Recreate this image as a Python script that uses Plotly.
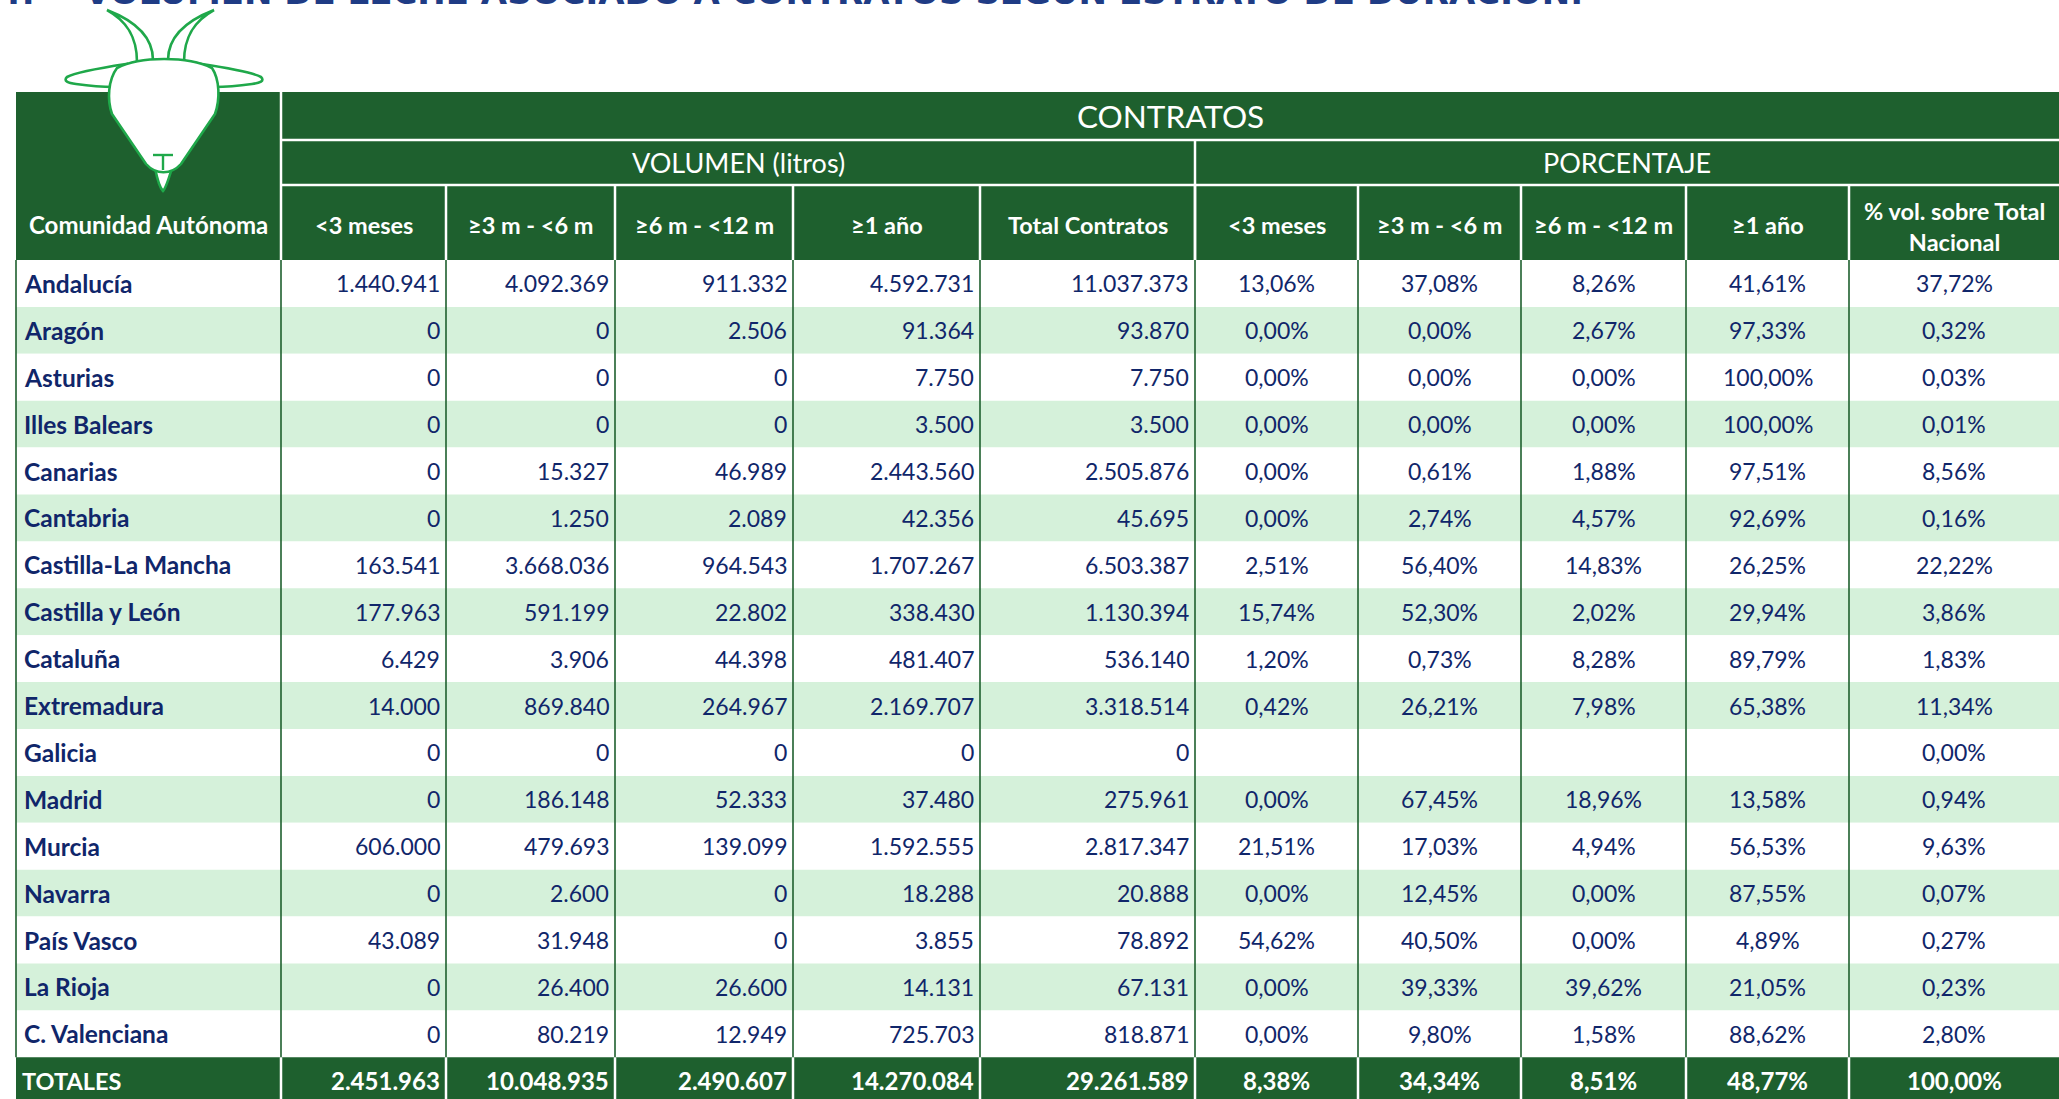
import plotly.graph_objects as go

# ---------------- DATA ----------------
regions = ["Andalucía", "Aragón", "Asturias", "Illes Balears", "Canarias", "Cantabria",
           "Castilla-La Mancha", "Castilla y León", "Cataluña", "Extremadura", "Galicia",
           "Madrid", "Murcia", "Navarra", "País Vasco", "La Rioja", "C. Valenciana"]

vol_lt3 = [1440941, 0, 0, 0, 0, 0, 163541, 177963, 6429, 14000, 0, 0, 606000, 0, 43089, 0, 0]
vol_3_6 = [4092369, 0, 0, 0, 15327, 1250, 3668036, 591199, 3906, 869840, 0, 186148, 479693, 2600, 31948, 26400, 80219]
vol_6_12 = [911332, 2506, 0, 0, 46989, 2089, 964543, 22802, 44398, 264967, 0, 52333, 139099, 0, 0, 26600, 12949]
vol_1y = [4592731, 91364, 7750, 3500, 2443560, 42356, 1707267, 338430, 481407, 2169707, 0, 37480, 1592555, 18288, 3855, 14131, 725703]
vol_total = [11037373, 93870, 7750, 3500, 2505876, 45695, 6503387, 1130394, 536140, 3318514, 0, 275961, 2817347, 20888, 78892, 67131, 818871]

pct_lt3 = [13.06, 0.00, 0.00, 0.00, 0.00, 0.00, 2.51, 15.74, 1.20, 0.42, None, 0.00, 21.51, 0.00, 54.62, 0.00, 0.00]
pct_3_6 = [37.08, 0.00, 0.00, 0.00, 0.61, 2.74, 56.40, 52.30, 0.73, 26.21, None, 67.45, 17.03, 12.45, 40.50, 39.33, 9.80]
pct_6_12 = [8.26, 2.67, 0.00, 0.00, 1.88, 4.57, 14.83, 2.02, 8.28, 7.98, None, 18.96, 4.94, 0.00, 0.00, 39.62, 1.58]
pct_1y = [41.61, 97.33, 100.00, 100.00, 97.51, 92.69, 26.25, 29.94, 89.79, 65.38, None, 13.58, 56.53, 87.55, 4.89, 21.05, 88.62]
pct_nat = [37.72, 0.32, 0.03, 0.01, 8.56, 0.16, 22.22, 3.86, 1.83, 11.34, 0.00, 0.94, 9.63, 0.07, 0.27, 0.23, 2.80]

totals_label = "TOTALES"
totals_vol = [2451963, 10048935, 2490607, 14270084, 29261589]
totals_pct = [8.38, 34.34, 8.51, 48.77, 100.00]

col_labels = ["Comunidad Autónoma", "&lt;3 meses", "≥3 m - &lt;6 m", "≥6 m - &lt;12 m", "≥1 año",
              "Total Contratos", "&lt;3 meses", "≥3 m - &lt;6 m", "≥6 m - &lt;12 m", "≥1 año",
              "% vol. sobre Total<br>Nacional"]
top_label = "CONTRATOS"
group_labels = ["VOLUMEN (litros)", "PORCENTAJE"]
title_text = "4.-   VOLUMEN DE LECHE ASOCIADO A CONTRATOS SEGÚN ESTRATO DE DURACIÓN."

# ---------------- STYLE / LAYOUT ----------------
W, H = 2059, 1099
DARK = "#1E602E"
BAND = "#D5F1DA"
NAVY = "#10266A"
LOGO = "#1FA84A"
FONT = "Lato"

table_left = 16
col_widths = [265, 165, 169, 178, 187, 215, 163, 163, 165, 163, 210]
hdr_top, hdr_r1, hdr_r2, body_top = 92, 140, 185, 260
row_h = 46.9
right_end = W + 20

col_edges = [table_left]
for w in col_widths:
    col_edges.append(col_edges[-1] + w)


def fmt_int(v):
    return f"{v:,}".replace(",", ".")


def fmt_pct(v):
    return "" if v is None else f"{v:.2f}".replace(".", ",") + "%"


shapes = []
annotations = []


def rect(x0, y0, x1, y1, color):
    shapes.append(dict(type="rect", xref="x", yref="y", x0=x0, y0=y0, x1=x1, y1=y1,
                       fillcolor=color, line=dict(width=0), layer="above"))


def line(x0, y0, x1, y1, color, w):
    shapes.append(dict(type="line", xref="x", yref="y", x0=x0, y0=y0, x1=x1, y1=y1,
                       line=dict(color=color, width=w), layer="above"))


def text(x, y, s, size, color, anchor="center", bold=False, weight=None):
    f = dict(family=FONT, size=size, color=color)
    if bold:
        f["weight"] = 700
    elif weight:
        f["weight"] = weight
    annotations.append(dict(x=x, y=y, xref="x", yref="y", text=s, showarrow=False,
                            xanchor=anchor, yanchor="middle", font=f))


n_rows = len(regions)
totals_top = body_top + n_rows * row_h
totals_bot = totals_top + row_h

# body bands
for i in range(n_rows):
    y0 = body_top + i * row_h
    rect(table_left, y0, right_end, y0 + row_h, BAND if i % 2 == 1 else "white")

# body vertical borders
for x in col_edges[:-1]:
    line(x, body_top, x, totals_top, DARK, 1.6)

# header block
rect(table_left, hdr_top, right_end, body_top, DARK)
line(col_edges[1], hdr_top, col_edges[1], body_top, "white", 2.5)
line(col_edges[1], hdr_r1, right_end, hdr_r1, "white", 2.5)
line(col_edges[1], hdr_r2, right_end, hdr_r2, "white", 2.5)
line(col_edges[6], hdr_r1, col_edges[6], body_top, "white", 2.5)
for x in col_edges[2:-1]:
    line(x, hdr_r2, x, body_top, "white", 2.5)

# totals row
rect(table_left, totals_top, right_end, totals_bot, DARK)
for x in col_edges[1:-1]:
    line(x, totals_top, x, totals_bot, "white", 2.5)

# header texts
text((col_edges[1] + col_edges[-1]) / 2, (hdr_top + hdr_r1) / 2, top_label, 31.5, "white")
text((col_edges[1] + col_edges[6]) / 2, (hdr_r1 + hdr_r2) / 2, group_labels[0], 27, "white")
text((col_edges[6] + col_edges[-1]) / 2, (hdr_r1 + hdr_r2) / 2, group_labels[1], 27, "white")
text((col_edges[0] + col_edges[1]) / 2, (hdr_r2 + body_top) / 2 + 2, col_labels[0], 24, "white", bold=True)
for j in range(1, len(col_labels)):
    yy = (hdr_r2 + body_top) / 2 + (4 if j == len(col_labels) - 1 else 2)
    text((col_edges[j] + col_edges[j + 1]) / 2, yy, col_labels[j], 23.5, "white", bold=True)

# body texts
vol_cols = [vol_lt3, vol_3_6, vol_6_12, vol_1y, vol_total]
pct_cols = [pct_lt3, pct_3_6, pct_6_12, pct_1y, pct_nat]
for i in range(n_rows):
    yc = body_top + i * row_h + row_h / 2
    text(col_edges[0] + 6, yc, regions[i], 24.5, NAVY, anchor="left", bold=True)
    for k, col in enumerate(vol_cols):
        text(col_edges[k + 2] - 4, yc, fmt_int(col[i]), 23, NAVY, anchor="right", weight=400)
    for k, col in enumerate(pct_cols):
        s = fmt_pct(col[i])
        if s:
            text((col_edges[k + 6] + col_edges[k + 7]) / 2, yc, s, 23, NAVY, weight=400)

# totals texts
yc = totals_top + row_h / 2
text(col_edges[0] + 4, yc, totals_label, 23.5, "white", anchor="left", bold=True)
for k, v in enumerate(totals_vol):
    text(col_edges[k + 2] - 4, yc, fmt_int(v), 24, "white", anchor="right", bold=True)
for k, v in enumerate(totals_pct):
    text((col_edges[k + 6] + col_edges[k + 7]) / 2, yc, fmt_pct(v), 24, "white", bold=True)

# title (cut at top of page, as in the reference)
annotations.append(dict(x=0, y=14, xref="x", yref="y", xshift=-4, text="<b>" + title_text + "</b>",
                        showarrow=False, xanchor="left", yanchor="bottom",
                        font=dict(family="DejaVu Sans", size=34, color="#1F3C85")))

# goat logo (decoration)
def logo_path(d, fill="white"):
    shapes.append(dict(type="path", xref="x", yref="y", path=d, fillcolor=fill,
                       line=dict(color=LOGO, width=2.6), layer="above"))

# horns
logo_path("M 107,10 C 125,20 137,35 137,62 L 153,60 C 153,38 138,22 107,10 Z")
logo_path("M 214,10 C 196,20 184,35 184,62 L 168,60 C 168,38 183,22 214,10 Z")
# ears
logo_path("M 126,64 C 100,68 76,72 67,77 C 63,81 68,83 76,84 C 90,86 105,87 114,87 Z")
logo_path("M 202,64 C 228,68 252,72 261,77 C 265,81 260,83 252,84 C 238,86 223,87 214,87 Z")
# beard
logo_path("M 155,168 C 157,178 160,188 163,191 C 166,188 169,178 172,168 Z")
# head
logo_path("M 117,68 C 140,56 188,56 212,68 C 220,80 220,100 215,114 L 181,164 "
          "C 171,175 156,175 146,164 L 112,114 C 107,100 108,80 117,68 Z")
# mouth
line(153, 155, 173, 155, LOGO, 2.4)
line(163, 155, 163, 170, LOGO, 2.4)

fig = go.Figure()
fig.update_layout(
    width=W, height=H, autosize=False,
    margin=dict(l=0, r=0, t=0, b=0),
    paper_bgcolor="white", plot_bgcolor="white",
    xaxis=dict(range=[0, W], visible=False, fixedrange=True),
    yaxis=dict(range=[H, 0], visible=False, fixedrange=True),
    shapes=shapes, annotations=annotations, showlegend=False,
)
fig.write_html("out.html", config={"displayModeBar": False},
               post_script="document.body.style.margin='0';document.body.style.overflow='hidden';")
